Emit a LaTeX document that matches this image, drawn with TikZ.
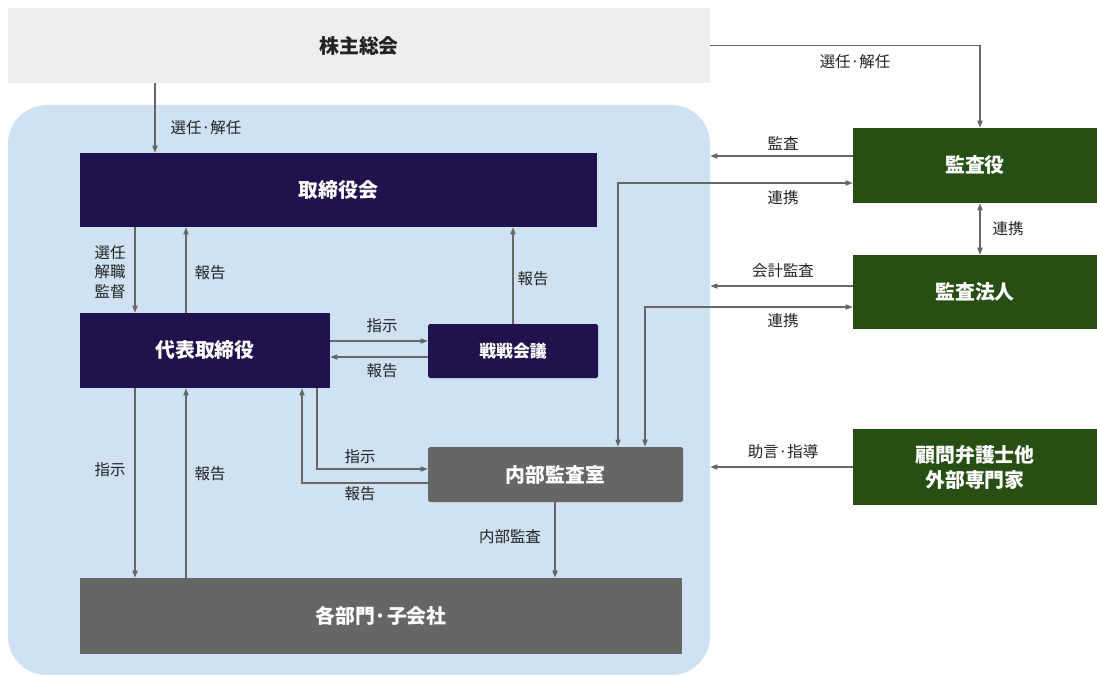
\documentclass[tikz,border=0pt]{standalone}
\usepackage{fontspec}
\setmainfont{Noto Sans CJK JP}
\usepackage{tikz}
\usetikzlibrary{arrows.meta,fit}

\definecolor{gmgray}{HTML}{EEEEEE}
\definecolor{regionblue}{HTML}{CFE2F3}
\definecolor{navy}{HTML}{20124D}
\definecolor{darkgray}{HTML}{666666}
\definecolor{audgreen}{HTML}{274E13}
\definecolor{linegray}{HTML}{666666}
\definecolor{txt}{HTML}{222222}

\begin{document}
\begin{tikzpicture}[x=0.02cm,y=-0.02cm,
		box/.style={inner sep=0pt,text=white,align=center,font=\fontsize{11.3}{14.2}\selectfont\bfseries},
		smallbox/.style={box,font=\fontsize{9.6}{12}\selectfont\bfseries},
		lbl/.style={inner sep=0pt,text=txt,align=center,font=\fontsize{8.8}{11.3}\selectfont},
		arr/.style={draw=linegray,line width=0.6pt,-{Triangle[length=4pt,width=3pt]}},
		arrtwo/.style={draw=linegray,line width=0.6pt,{Triangle[length=4pt,width=3pt]}-{Triangle[length=4pt,width=3pt]}}]
				\useasboundingbox (0,0) rectangle (1097,675);
				\node[fill=gmgray,inner sep=0pt,fit={(8,8) (710,83)},label={[box,text=txt]center:株主総会}] (gm) {};
				\node[fill=regionblue,inner sep=0pt,rounded corners=22pt,fit={(8,105) (710,675)}] (region) {};
				\node[fill=navy,inner sep=0pt,fit={(80,153) (597,227)},label={[box]center:取締役会}] (board) {};
				\node[fill=navy,inner sep=0pt,fit={(80,313) (330,388)},label={[box]center:代表取締役}] (ceo) {};
				\node[fill=navy,inner sep=0pt,rounded corners=1pt,fit={(428,324) (598,378)},label={[smallbox]center:戦戦会議}] (strat) {};
				\node[fill=darkgray,inner sep=0pt,rounded corners=1pt,fit={(428,447) (683,502)},label={[box]center:内部監査室}] (intaudit) {};
				\node[fill=darkgray,inner sep=0pt,fit={(80,578) (682,654)},label={[box]center:各部門·子会社}] (depts) {};
				\node[fill=audgreen,inner sep=0pt,fit={(853,128) (1097,203)},label={[box]center:監査役}] (aud) {};
				\node[fill=audgreen,inner sep=0pt,fit={(853,255) (1097,329)},label={[box]center:監査法人}] (audfirm) {};
				\node[fill=audgreen,inner sep=0pt,fit={(853,429) (1097,505)},label={[box]center:顧問弁護士他\\外部専門家}] (adv) {};

				\path \foreach \from/\to/\x in {gm.south/board.north/155,board.south/ceo.north/135,ceo.north/board.south/186,strat.north/board.south/513,ceo.south/depts.north/135,depts.north/ceo.south/186,intaudit.south/depts.north/555} {
					(\from -| \x,0) edge[arr] (\to -| \x,0)
				};
				\path \foreach \from/\to/\y in {ceo.east/strat.west/341,strat.west/ceo.east/357,aud.west/region.east/156,audfirm.west/region.east/286,adv.west/region.east/467} {
					(\from |- 0,\y) edge[arr] (\to |- 0,\y)
				};
				\draw[arr] (gm.east) -| (aud.north -| 980,0);
				\draw[arrtwo] (aud.south -| 980,0) -- (audfirm.north -| 980,0);
				\draw[arrtwo] (intaudit.north -| 618,0) |- (aud.west |- 0,183);
				\draw[arrtwo] (intaudit.north -| 645,0) |- (audfirm.west |- 0,307);
				\draw[arr] (ceo.south -| 317,0) |- (intaudit.west |- 0,469);
				\draw[arr] (intaudit.west |- 0,483) -| (ceo.south -| 302,0);

				\foreach \nm/\x/\y/\t in {gmsel/206/128/選任·解任,audsel/855/62/選任·解任,audchk/783/143/監査,audlink/783/198/連携,firmlink/1008/229/連携,firmchk/783/271/会計監査,firmlinkb/783/321/連携,advice/783/452/助言·指導,ceorep/210/273/報告,stratrep/533/279/報告,stratcmd/382/326/指示,stratback/382/371/報告,deptcmd/110/470/指示,deptrep/210/474/報告,iacmd/360/457/指示,iarep/360/494/報告,iacheck/510/537/内部監査} {
					\node[lbl] (\nm) at (\x,\y) {\t};
				}
				\node[lbl] (boardsel) at (110,272) {選任\\解職\\監督};
			\end{tikzpicture}
\end{document}
